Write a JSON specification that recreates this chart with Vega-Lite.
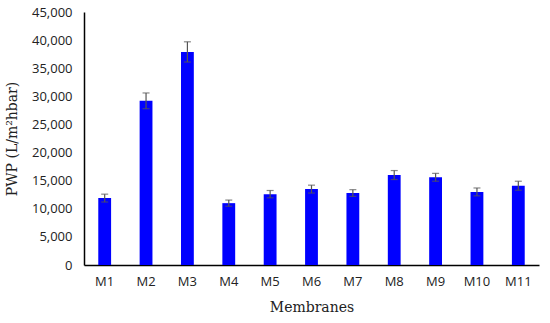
{
  "$schema": "https://vega.github.io/schema/vega-lite/v6.json",
  "width": 455,
  "height": 253,
  "autosize": "none",
  "padding": {"left": 84, "top": 12, "right": 11, "bottom": 58},
  "background": "white",
  "config": {
    "view": {"stroke": null},
    "axisY": {
      "tickCount": 10,
      "grid": false, "ticks": false,
      "domainColor": "black", "domainWidth": 1.5,
      "labelFont": "Open Sans", "labelFontSize": 13, "labelColor": "#222", "labelPadding": 12,
      "titleFont": "DejaVu Serif", "titleFontSize": 14, "titleFontWeight": "normal", "titleColor": "#222", "titlePadding": 12
    }
  },
  "data": {"values": [
    {"m": "M1", "v": 11900, "e": 700},
    {"m": "M2", "v": 29200, "e": 1400},
    {"m": "M3", "v": 37900, "e": 1800},
    {"m": "M4", "v": 11000, "e": 550},
    {"m": "M5", "v": 12600, "e": 650},
    {"m": "M6", "v": 13500, "e": 700},
    {"m": "M7", "v": 12800, "e": 600},
    {"m": "M8", "v": 16000, "e": 800},
    {"m": "M9", "v": 15600, "e": 700},
    {"m": "M10", "v": 13000, "e": 700},
    {"m": "M11", "v": 14100, "e": 800}
  ]},
  "transform": [
    {"calculate": "datum.v - datum.e", "as": "lo"},
    {"calculate": "datum.v + datum.e", "as": "hi"}
  ],
  "encoding": {
    "x": {
      "field": "m", "type": "nominal", "sort": null,
      "scale": {"paddingInner": 0.69, "paddingOuter": 0.345},
      "axis": {
        "title": "Membranes", "labelAngle": 0, "ticks": false,
        "domainColor": "black", "domainWidth": 1.5,
        "labelFont": "Open Sans", "labelFontSize": 13, "labelColor": "#222", "labelPadding": 10,
        "titleFont": "DejaVu Serif", "titleFontSize": 14, "titleFontWeight": "normal", "titleColor": "#222", "titlePadding": 12
      }
    }
  },
  "layer": [
    {
      "mark": {"type": "bar", "color": "#0000ff"},
      "encoding": {
        "y": {"field": "v", "type": "quantitative", "scale": {"domain": [0, 45000]}, "title": "PWP (L/m²hbar)", "axis": {"format": ",.0f"}}
      }
    },
    {
      "mark": {"type": "rule", "color": "#555", "strokeWidth": 1.2},
      "encoding": {"y": {"field": "lo", "type": "quantitative", "title": "PWP (L/m²hbar)", "axis": {"format": ",.0f"}}, "y2": {"field": "hi"}}
    },
    {
      "mark": {"type": "tick", "color": "#555", "size": 7, "thickness": 1.2},
      "encoding": {"y": {"field": "lo", "type": "quantitative", "title": "PWP (L/m²hbar)", "axis": {"format": ",.0f"}}}
    },
    {
      "mark": {"type": "tick", "color": "#555", "size": 7, "thickness": 1.2},
      "encoding": {"y": {"field": "hi", "type": "quantitative", "title": "PWP (L/m²hbar)", "axis": {"format": ",.0f"}}}
    }
  ]
}
